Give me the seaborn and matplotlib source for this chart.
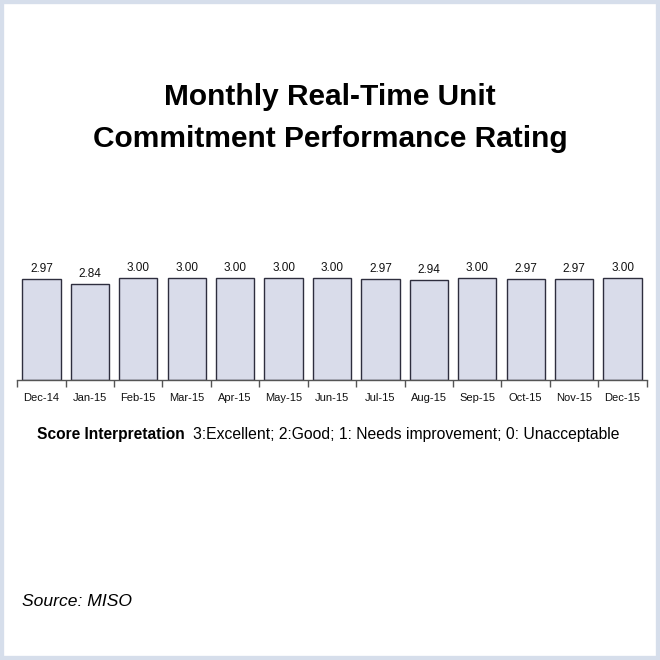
import matplotlib
matplotlib.use("Agg")
import matplotlib.pyplot as plt
from matplotlib.patches import Rectangle
import seaborn as sns
import numpy as np
import pandas as pd
from matplotlib import font_manager

months = ["Dec-14", "Jan-15", "Feb-15", "Mar-15", "Apr-15", "May-15", "Jun-15",
          "Jul-15", "Aug-15", "Sep-15", "Oct-15", "Nov-15", "Dec-15"]
ratings = [2.97, 2.84, 3.00, 3.00, 3.00, 3.00, 3.00, 2.97, 2.94, 3.00, 2.97, 2.97, 3.00]
title_lines = ["Monthly Real-Time Unit", "Commitment Performance Rating"]
score_label = "Score Interpretation"
score_text = "3:Excellent; 2:Good; 1: Needs improvement; 0: Unacceptable"
source_text = "Source: MISO"

sns.set_theme(style="white")
plt.rcParams['font.family'] = ['Liberation Sans', 'DejaVu Sans']

names = {f.name for f in font_manager.fontManager.ttflist}
title_family = ['Liberation Sans Narrow'] if 'Liberation Sans Narrow' in names else ['Liberation Sans']

df = pd.DataFrame({"month": months, "rating": ratings})

fig = plt.figure(figsize=(6.6, 6.6), dpi=100)
fig.patch.set_facecolor("white")
# border frame
fig.patches.append(Rectangle((0, 0), 1, 1, transform=fig.transFigure, fill=False,
                             edgecolor="#d6deeb", linewidth=6, zorder=0))

ax = fig.add_axes([0.026, 0.424, 0.954, 0.180])
sns.barplot(data=df, x="month", y="rating", color="#d9dcea", edgecolor="#2e2e3e",
            linewidth=1.0, width=0.79, saturation=1, ax=ax)
ax.set_ylim(0, 3.5)
ax.set_xlim(-0.5, len(months) - 0.5)
for c in ax.containers:
    ax.bar_label(c, fmt="%.2f", padding=3, fontsize=8.5, color="#111111")
for s in ["top", "right", "left"]:
    ax.spines[s].set_visible(False)
ax.spines["bottom"].set_color("#555555")
ax.spines["bottom"].set_linewidth(1.0)
ax.set_yticks([])
ax.set_xlabel("")
ax.set_ylabel("")
ax.set_xticks(np.arange(len(months)))
ax.set_xticklabels(months, fontsize=8, color="#111111")
ax.tick_params(axis="x", which="major", length=0, pad=9)
ax.set_xticks(np.arange(-0.5, len(months), 1.0), minor=True)
ax.tick_params(axis="x", which="minor", length=5, width=1, color="#555555", bottom=True, direction="out")

fig.text(0.5, 1 - 97 / 660, title_lines[0], ha="center", va="center", fontsize=21.5,
         fontweight="bold", family=title_family, color="black")
fig.text(0.5, 1 - 139 / 660, title_lines[1], ha="center", va="center", fontsize=21.5,
         fontweight="bold", family=title_family, color="black")

fig.text(37 / 660, 1 - 434 / 660, score_label, ha="left", va="center", fontsize=11.2,
         fontweight="bold", color="black")
fig.text(193 / 660, 1 - 434 / 660, score_text, ha="left", va="center", fontsize=11.3,
         color="black")
fig.text(22 / 660, 1 - 602 / 660, source_text, ha="left", va="center", fontsize=12.6,
         style="italic", color="black")

fig.savefig("out.png", dpi=100, facecolor="white")
